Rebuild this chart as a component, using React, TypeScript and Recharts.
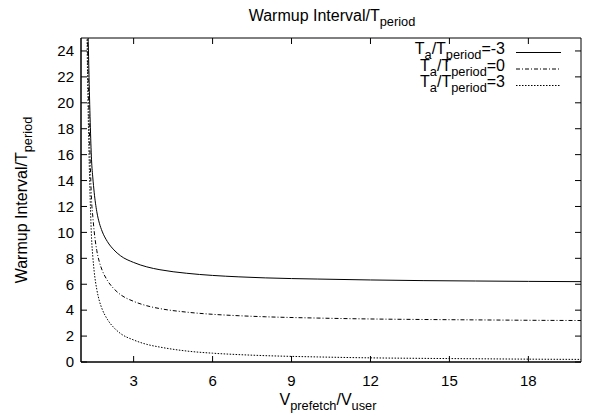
import React from 'react';
import { LineChart, Line, XAxis, YAxis, ReferenceArea } from 'recharts';

// V_prefetch / V_user
const V = [1.2, 1.25, 1.3, 1.35, 1.4, 1.45, 1.5, 1.6, 1.7, 1.8, 2, 2.25, 2.5, 3, 3.5, 4, 5, 6, 7, 8, 10, 12, 14, 16, 18, 20];
// Warmup Interval / T_period for each T_a / T_period
const W_TA_M3 = [36, 27.5, 22.5, 18.5, 15.6, 14.2, 13.1, 11.6, 10.7, 10.1, 9.3, 8.65, 8.2, 7.68, 7.34, 7.12, 6.85, 6.68, 6.57, 6.49, 6.4, 6.33, 6.28, 6.25, 6.22, 6.2];
const W_TA_0 = [33, 24.5, 19.5, 15.5, 12.5, 11.2, 10.1, 8.6, 7.7, 7.1, 6.3, 5.65, 5.2, 4.68, 4.34, 4.12, 3.85, 3.68, 3.57, 3.49, 3.39, 3.32, 3.28, 3.25, 3.22, 3.2];
const W_TA_3 = [30, 22, 16.5, 12.5, 9.6, 8.1, 7.0, 5.6, 4.7, 4.1, 3.3, 2.65, 2.2, 1.7, 1.36, 1.15, 0.85, 0.68, 0.57, 0.49, 0.39, 0.32, 0.28, 0.25, 0.22, 0.2];

const X_TICKS = [3, 6, 9, 12, 15, 18];
const Y_TICKS = [0, 2, 4, 6, 8, 10, 12, 14, 16, 18, 20, 22, 24];
const X_DOMAIN: [number, number] = [1, 20];
const Y_DOMAIN: [number, number] = [0, 25];

const SERIES = [
  { key: 'm3', label: '=-3', values: W_TA_M3, dash: undefined as string | undefined },
  { key: 'z0', label: '=0', values: W_TA_0, dash: '4 2 1 2' },
  { key: 'p3', label: '=3', values: W_TA_3, dash: '1.5 1.5' },
];

const data = V.map((v, i) => {
  const row: Record<string, number> = { v };
  SERIES.forEach((s) => {
    row[s.key] = s.values[i];
  });
  return row;
});

const FONT = '"Liberation Sans", Arial, Helvetica, sans-serif';
const W = 600;
const H = 419;
const MARGIN = { top: 38, right: 19, bottom: 0, left: 0 };
const Y_AXIS_W = 81;
const X_AXIS_H = 57;
const PLOT_TOP = MARGIN.top;
const PLOT_RIGHT = W - MARGIN.right;
const TICK_LEN = 6;
const X_TICK_MARGIN = 13;
const Y_TICK_MARGIN = 7;
const TICK_FS = 15;
const SUB = 12.8;
const SD = 5;

function XTick(props: any) {
  const { x, y, payload } = props;
  const bottom = y - X_TICK_MARGIN;
  return (
    <g>
      <line x1={x} x2={x} y1={bottom} y2={bottom - TICK_LEN} stroke="#000" strokeWidth={1} />
      <line x1={x} x2={x} y1={PLOT_TOP} y2={PLOT_TOP + TICK_LEN} stroke="#000" strokeWidth={1} />
      <text x={x} y={y} dy={TICK_FS * 0.71} textAnchor="middle" fontSize={TICK_FS} fill="#000" fontFamily={FONT}>
        {payload.value}
      </text>
    </g>
  );
}

function YTick(props: any) {
  const { x, y, payload } = props;
  const left = x + Y_TICK_MARGIN;
  return (
    <g>
      <line x1={left} x2={left + TICK_LEN} y1={y} y2={y} stroke="#000" strokeWidth={1} />
      <line x1={PLOT_RIGHT} x2={PLOT_RIGHT - TICK_LEN} y1={y} y2={y} stroke="#000" strokeWidth={1} />
      <text x={x} y={y} dy={TICK_FS * 0.355} textAnchor="end" fontSize={TICK_FS} fill="#000" fontFamily={FONT}>
        {payload.value}
      </text>
    </g>
  );
}

export default function App() {
  return (
    <div style={{ position: 'absolute', left: 0, top: 0, width: W, height: H, background: '#fff' }}>
      <LineChart width={W} height={H} data={data} margin={MARGIN} style={{ fontFamily: FONT }}>
        <XAxis
          dataKey="v"
          type="number"
          domain={X_DOMAIN}
          allowDataOverflow
          ticks={X_TICKS}
          interval={0}
          height={X_AXIS_H}
          tickSize={0}
          tickMargin={X_TICK_MARGIN}
          tick={<XTick />}
          tickLine={false}
          axisLine={{ stroke: '#000', strokeWidth: 1 }}
        />
        <YAxis
          type="number"
          domain={Y_DOMAIN}
          allowDataOverflow
          ticks={Y_TICKS}
          interval={0}
          width={Y_AXIS_W}
          tickSize={0}
          tickMargin={Y_TICK_MARGIN}
          tick={<YTick />}
          tickLine={false}
          axisLine={{ stroke: '#000', strokeWidth: 1 }}
        />
        <ReferenceArea
          x1={X_DOMAIN[0]}
          x2={X_DOMAIN[1]}
          y1={Y_DOMAIN[0]}
          y2={Y_DOMAIN[1]}
          fill="none"
          fillOpacity={0}
          stroke="#000"
          strokeWidth={1}
          strokeOpacity={1}
          ifOverflow="visible"
        />
        {SERIES.map((s) => (
          <Line
            key={s.key}
            dataKey={s.key}
            type="monotone"
            stroke="#000"
            strokeWidth={1}
            strokeDasharray={s.dash}
            dot={false}
            activeDot={false}
            isAnimationActive={false}
          />
        ))}
      </LineChart>
      <svg
        width={W}
        height={H}
        style={{ position: 'absolute', left: 0, top: 0, pointerEvents: 'none' }}
        fontFamily={FONT}
      >
        <text x={332} y={21} textAnchor="middle" fontSize={16} fill="#000">
          Warmup Interval/T
          <tspan dy={SD} fontSize={SUB}>period</tspan>
        </text>
        <text x={328} y={405} textAnchor="middle" fontSize={16} fill="#000">
          V
          <tspan dy={SD} fontSize={SUB}>prefetch</tspan>
          <tspan dy={-SD}>/V</tspan>
          <tspan dy={SD} fontSize={SUB}>user</tspan>
        </text>
        <text transform="rotate(-90)" x={-200} y={27} textAnchor="middle" fontSize={16} fill="#000">
          Warmup Interval/T
          <tspan dy={SD} fontSize={SUB}>period</tspan>
        </text>
        {SERIES.map((s, i) => {
          const ly = 52.5 + i * 16.5;
          return (
            <g key={s.key}>
              <text x={505} y={ly + 1.5} textAnchor="end" fontSize={16} fill="#000">
                T
                <tspan dy={SD} fontSize={SUB}>a</tspan>
                <tspan dy={-SD}>/T</tspan>
                <tspan dy={SD} fontSize={SUB}>period</tspan>
                <tspan dy={-SD}>{s.label}</tspan>
              </text>
              <line x1={516} x2={561} y1={ly} y2={ly} stroke="#000" strokeWidth={1} strokeDasharray={s.dash} />
            </g>
          );
        })}
      </svg>
    </div>
  );
}
